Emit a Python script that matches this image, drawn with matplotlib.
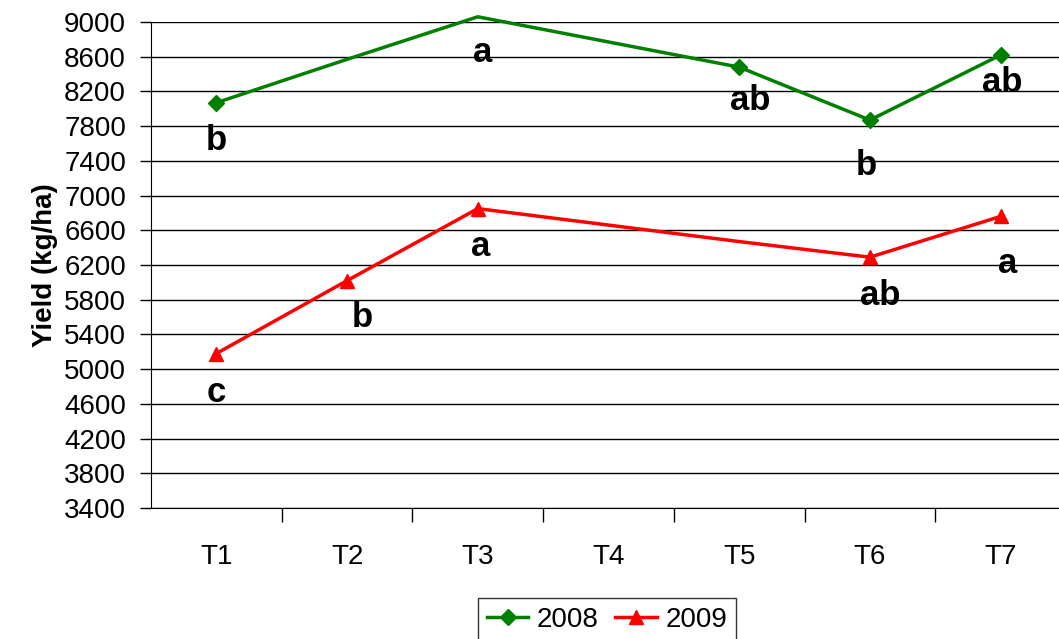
import matplotlib.pyplot as plt
from matplotlib.lines import Line2D

treatments = ["T1", "T2", "T3", "T4", "T5", "T6", "T7"]
yield_2008 = [8070, 8570, 9060, 8770, 8480, 7870, 8620]
yield_2009 = [5180, 6020, 6850, 6660, 6470, 6290, 6760]
letters_2008 = ["b", "", "a", "", "ab", "b", "ab"]
letters_2009 = ["c", "b", "a", "", "", "ab", "a"]
# which points show a marker in the original
shown_2008 = [0, 4, 5, 6]
shown_2009 = [0, 1, 2, 5, 6]

# label offsets in pixels (dx, dy)
offs_2008 = [(0, -38), None, (5, -36), None, (11, -33), (-4, -45), (2, -28)]
offs_2009 = [(0, -39), (15, -37), (3, -38), None, None, (10, -38), (7, -47)]

plt.rcParams["font.family"] = ["Liberation Sans", "DejaVu Sans"]

fig = plt.figure(figsize=(10.59, 6.39), dpi=100)
ax = fig.add_axes([151 / 1059, 131 / 639, 915 / 1059, 486 / 639])

x = list(range(len(treatments)))
green = "#008000"
red = "#ff0000"

ax.plot(x, yield_2008, color=green, linewidth=2.5, clip_on=False, zorder=3)
ax.plot([x[i] for i in shown_2008], [yield_2008[i] for i in shown_2008],
        linestyle="none", marker="D", markersize=8, color=green,
        clip_on=False, zorder=4)
ax.plot(x, yield_2009, color=red, linewidth=2.5, clip_on=False, zorder=3)
ax.plot([x[i] for i in shown_2009], [yield_2009[i] for i in shown_2009],
        linestyle="none", marker="^", markersize=10, color=red,
        clip_on=False, zorder=4)

for vals, labs, offs in [(yield_2008, letters_2008, offs_2008),
                         (yield_2009, letters_2009, offs_2009)]:
    for i, (v, lab) in enumerate(zip(vals, labs)):
        if not lab:
            continue
        ax.annotate(lab, (x[i], v), xytext=offs[i], textcoords="offset pixels",
                    ha="center", va="center", fontsize=25, fontweight="bold",
                    annotation_clip=False)

ax.set_ylim(3400, 9000)
ax.set_yticks(range(3400, 9001, 400))
ax.yaxis.grid(True, color="black", linewidth=1)
ax.set_axisbelow(True)
ax.tick_params(axis="y", labelsize=20, length=8, width=1, direction="out", pad=10)

ax.set_xlim(-0.5, len(treatments) - 0.5)
ax.set_xticks(x)
ax.set_xticklabels(treatments)
ax.set_xticks([i + 0.5 for i in x[:-1]], minor=True)
ax.tick_params(axis="x", which="major", length=0, labelsize=20, pad=26)
ax.tick_params(axis="x", which="minor", length=10, width=1, direction="out")

ax.spines["top"].set_visible(False)
ax.spines["right"].set_visible(False)

ax.set_ylabel("Yield (kg/ha)", fontsize=20, fontweight="bold", labelpad=4)

handles = [
    Line2D([], [], color=green, linewidth=2.5, marker="D", markersize=8),
    Line2D([], [], color=red, linewidth=2.5, marker="^", markersize=10),
]
fig.legend(handles, ["2008", "2009"], loc="lower center",
           bbox_to_anchor=(607 / 1059, -0.025), ncol=2, fontsize=20,
           frameon=True, fancybox=False, edgecolor="black",
           handlelength=1.5, columnspacing=0.6, handletextpad=0.3,
           borderpad=0.3)

fig.savefig("out.png", dpi=100)
